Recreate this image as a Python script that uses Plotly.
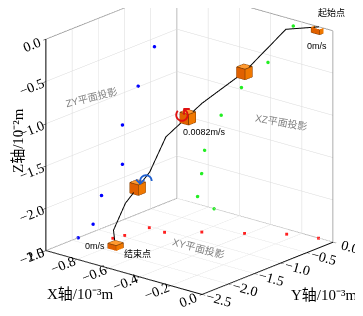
import plotly.graph_objects as go

# trajectory (x in 1e-3 m, y in 1e-3 m, z in 1e-2 m)
traj_x = [-0.09, -0.255, -0.42, -0.59, -0.72, -0.825, -0.845, -0.866, -0.76]
traj_y = [0.0, -0.14, -0.44, -0.745, -1.045, -1.04, -1.445, -1.61, -1.885]
traj_z = [0.0, -0.08, -0.595, -0.98, -1.37, -1.84, -2.12, -2.41, -2.5]

# projections
zy_y = [0.0, -0.14, -0.43, -0.74, -1.04, -1.04, -1.44, -1.6, -1.885]
zy_z = [0.0, -0.0875, -0.6, -0.99, -1.375, -1.84, -2.11, -2.41, -2.5]
xz_x = [-0.255, -0.417, -0.587, -0.717, -0.823, -0.842, -0.868, -0.762]
xz_z = [-0.075, -0.59, -0.975, -1.37, -1.84, -2.125, -2.41, -2.5]
xy_x = [-0.093, -0.25, -0.416, -0.589, -0.727, -0.828, -0.848, -0.865]
xy_y = [0.0, -0.14, -0.45, -0.75, -1.05, -1.04, -1.45, -1.625]

# cube (particle) positions
cube_x = [-0.09, -0.42, -0.64, -0.835, -0.76]
cube_y = [0.0, -0.44, -0.865, -1.24, -1.885]
cube_z = [0.0, -0.595, -1.14, -1.98, -2.5]

x_range = [-1.0, 0.0]
y_range = [-2.5, 0.0]
z_range = [-2.5, 0.0]

fig = go.Figure()

# back edges of the box frame (from axis ranges)
x0, x1 = x_range; y0, y1 = y_range; z0, z1 = z_range
fx = [x0, x0, None, x0, x1, None, x0, x0, None, x1, x1, None, x0, x0, None, x0, x1]
fy = [y0, y1, None, y1, y1, None, y1, y1, None, y1, y1, None, y0, y1, None, y1, y1]
fz = [z1, z1, None, z1, z1, None, z0, z1, None, z0, z1, None, z0, z0, None, z0, z0]
fig.add_trace(go.Scatter3d(x=fx, y=fy, z=fz, mode="lines", line=dict(color="#707070", width=1.5),
                           showlegend=False, hoverinfo="skip"))

fig.add_trace(go.Scatter3d(x=traj_x, y=traj_y, z=traj_z, mode="lines",
                           line=dict(color="black", width=2), showlegend=False))
fig.add_trace(go.Scatter3d(x=[x_range[0]] * len(zy_y), y=zy_y, z=zy_z, mode="markers",
                           marker=dict(color="#0000ff", size=2), showlegend=False))
fig.add_trace(go.Scatter3d(x=xz_x, y=[y_range[1]] * len(xz_x), z=xz_z, mode="markers",
                           marker=dict(color="#22ee22", size=2), showlegend=False))
fig.add_trace(go.Scatter3d(x=xy_x, y=xy_y, z=[z_range[0]] * len(xy_x), mode="markers",
                           marker=dict(color="#ff2020", size=1.5, symbol="square"), showlegend=False))

# cubes as meshes
hx, hy, hz = 0.027, 0.068, 0.062
vx, vy, vz, I, J, K, fc = [], [], [], [], [], [], []
ex, ey, ez = [], [], []
top = "#ff9a30"
side1 = "#f07800"
side2 = "#e06000"
for n, (cx, cy, cz) in enumerate(zip(cube_x, cube_y, cube_z)):
    b = len(vx)
    for dz in (-1, 1):
        for dy in (-1, 1):
            for dx in (-1, 1):
                vx.append(cx + dx * hx); vy.append(cy + dy * hy); vz.append(cz + dz * hz)

    def idx(a, bb, c, b=b):
        return b + a + 2 * bb + 4 * c
    faces = [
        ((0, 0, 1), (1, 0, 1), (1, 1, 1), (0, 1, 1), top),
        ((0, 0, 0), (1, 0, 0), (1, 1, 0), (0, 1, 0), side2),
        ((1, 0, 0), (1, 1, 0), (1, 1, 1), (1, 0, 1), side1),
        ((0, 0, 0), (0, 1, 0), (0, 1, 1), (0, 0, 1), side1),
        ((0, 0, 0), (1, 0, 0), (1, 0, 1), (0, 0, 1), side2),
        ((0, 1, 0), (1, 1, 0), (1, 1, 1), (0, 1, 1), side2),
    ]
    for f in faces:
        p = [idx(*f[k]) for k in range(4)]
        I += [p[0], p[0]]; J += [p[1], p[2]]; K += [p[2], p[3]]
        fc += [f[4], f[4]]
    edges = [((0,0,0),(1,0,0)),((0,1,0),(1,1,0)),((0,0,1),(1,0,1)),((0,1,1),(1,1,1)),
             ((0,0,0),(0,1,0)),((1,0,0),(1,1,0)),((0,0,1),(0,1,1)),((1,0,1),(1,1,1)),
             ((0,0,0),(0,0,1)),((1,0,0),(1,0,1)),((0,1,0),(0,1,1)),((1,1,0),(1,1,1))]
    for a1, a2 in edges:
        for q in (a1, a2):
            k = idx(*q)
            ex.append(vx[k]); ey.append(vy[k]); ez.append(vz[k])
        ex.append(None); ey.append(None); ez.append(None)

fig.add_trace(go.Mesh3d(x=vx, y=vy, z=vz, i=I, j=J, k=K, facecolor=fc, flatshading=True,
                        lighting=dict(ambient=1, diffuse=0, specular=0, fresnel=0),
                        showscale=False, hoverinfo="skip"))
fig.add_trace(go.Scatter3d(x=ex, y=ey, z=ez, mode="lines", line=dict(color="#6a3000", width=1.5),
                           showlegend=False, hoverinfo="skip"))

serif = "Liberation Serif, Times New Roman, Noto Sans CJK SC"
sans = "Liberation Sans, Arial, Noto Sans CJK SC"
ann_font = dict(family=sans, size=9, color="black")
grey_font = dict(family=sans, size=10, color="#7f7f7f")

annotations = [
    dict(x=cube_x[0], y=cube_y[0], z=cube_z[0], text="起始点", showarrow=False, xshift=12, yshift=14, font=ann_font),
    dict(x=cube_x[0], y=cube_y[0], z=cube_z[0], text="0m/s", showarrow=False, xshift=-2, yshift=-19, font=ann_font),
    dict(x=cube_x[2], y=cube_y[2], z=cube_z[2], text="0.0082m/s", showarrow=False, xshift=17, yshift=-15, font=ann_font),
    dict(x=cube_x[4], y=cube_y[4], z=cube_z[4], text="0m/s", showarrow=False, xshift=-21, yshift=2, font=ann_font),
    dict(x=cube_x[4], y=cube_y[4], z=cube_z[4], text="结束点", showarrow=False, xshift=22, yshift=-5, font=ann_font),
    dict(x=x_range[0], y=-1.635, z=-0.9, text="ZY平面投影", showarrow=False, textangle=-14, font=grey_font),
    dict(x=-0.33, y=y_range[1], z=-1.25, text="XZ平面投影", showarrow=False, textangle=10, font=grey_font),
    dict(x=-0.45, y=-1.22, z=z_range[0], text="XY平面投影", showarrow=False, textangle=15, font=grey_font),
    dict(x=cube_x[2], y=cube_y[2], z=cube_z[2], text="↺", showarrow=False, xshift=-6, yshift=2,
         font=dict(family="DejaVu Sans", size=22, color="#e01010")),
    dict(x=cube_x[3], y=cube_y[3], z=cube_z[3], text="↶", showarrow=False, xshift=6, yshift=6,
         font=dict(family="DejaVu Sans", size=22, color="#2060d0")),
]

axis_common = dict(showbackground=False, showgrid=True, gridcolor="#d9d9d9", gridwidth=1,
                   zeroline=False, showline=True, linecolor="black", linewidth=2,
                   ticks="outside", tickcolor="black", ticklen=4, tickformat=".1f",
                   tickfont=dict(family=serif, size=13, color="black"),
                   showspikes=False, title=dict(text=""))

title_font = dict(family=serif, size=15, color="black")

fig.update_layout(
    width=363, height=316,
    margin=dict(l=0, r=0, t=0, b=0),
    paper_bgcolor="white",
    showlegend=False,
    scene=dict(
        xaxis=dict(range=x_range, dtick=0.2, **axis_common),
        yaxis=dict(range=y_range, dtick=0.5, **axis_common),
        zaxis=dict(range=z_range, dtick=0.5, **axis_common),
        aspectmode="manual", aspectratio=dict(x=1.29, y=1.29, z=1.42),
        camera=dict(eye=dict(x=0.85, y=-1.013, z=0.30), center=dict(x=0, y=0, z=-0.17),
                    up=dict(x=0, y=0, z=1), projection=dict(type="orthographic")),
        annotations=annotations,
    ),
    annotations=[
        dict(xref="paper", yref="paper", x=37 / 363, y=1 - 296 / 316, xanchor="left", text="X轴/10⁻³m",
             showarrow=False, font=title_font),
        dict(xref="paper", yref="paper", x=281 / 363, y=1 - 297 / 316, xanchor="left", text="Y轴/10⁻³m",
             showarrow=False, font=title_font),
        dict(xref="paper", yref="paper", x=0, y=1 - 133 / 316, xanchor="left", text="Z轴/10⁻²m",
             showarrow=False, textangle=-90, font=title_font),
    ],
)

fig.write_html("out.html")
